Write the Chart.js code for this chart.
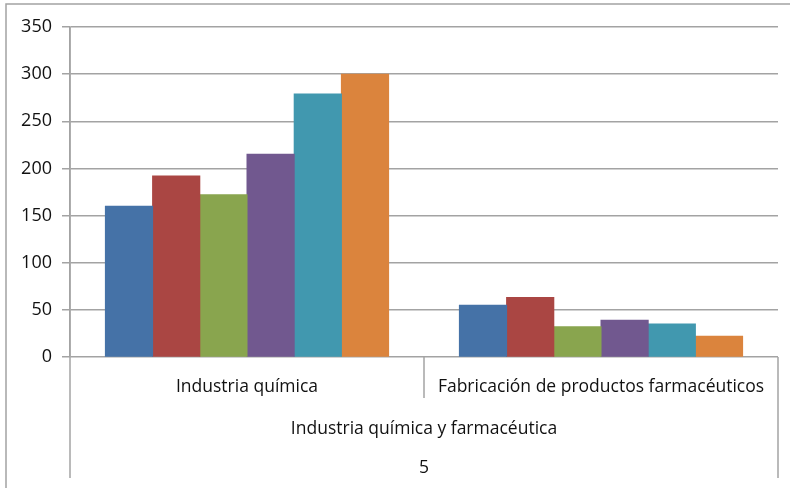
<!DOCTYPE html>
<html><head><meta charset="utf-8">
<script src="https://cdn.jsdelivr.net/npm/chart.js@4"></script>
<style>html,body{margin:0;padding:0;background:#fff}#wrap{width:790px;height:488px}</style>
</head><body><div id="wrap"><canvas id="c" width="790" height="488"></canvas></div>
<script>
const categories = ['Industria química', 'Fabricación de productos farmacéuticos'];
const groupLabels = ['Industria química y farmacéutica'];
const outerLabels = ['5'];
const seriesNames = ['Serie 1', 'Serie 2', 'Serie 3', 'Serie 4', 'Serie 5', 'Serie 6'];
const series1 = [160, 55];
const series2 = [192, 63];
const series3 = [172, 32];
const series4 = [215, 39];
const series5 = [279, 35];
const series6 = [300, 22];
const yTickValues = [0, 50, 100, 150, 200, 250, 300, 350];
const colors = ['#4572A7', '#AA4643', '#89A54E', '#71588F', '#4198AF', '#DB843D'];

const FONT = '"Open Sans", "Liberation Sans", sans-serif';
const LINE = '#a3a3a3';
const TEXT = '#111';

const multiLevel = {
  id: 'multiLevel',
  afterDraw(chart) {
    const {ctx, chartArea: a, scales: {x}} = chart;
    const bottomY = a.bottom + 121;
    const midY = a.bottom + 41;
    ctx.save();
    ctx.strokeStyle = LINE;
    ctx.lineWidth = 1.5;
    const line = (x1, y1, x2, y2) => { ctx.beginPath(); ctx.moveTo(x1, y1); ctx.lineTo(x2, y2); ctx.stroke(); };
    // outer chart border
    ctx.strokeRect(6, 4, 1000, 1000);
    // axis separators
    line(a.left, a.top, a.left, bottomY);
    line(a.right, a.bottom, a.right, bottomY);
    for (let i = 1; i < categories.length; i++) {
      const xb = (x.getPixelForValue(i - 1) + x.getPixelForValue(i)) / 2;
      line(xb, a.bottom, xb, midY);
    }
    ctx.fillStyle = TEXT;
    ctx.font = '17.5px ' + FONT;
    ctx.textAlign = 'center';
    ctx.textBaseline = 'middle';
    const cx = (a.left + a.right) / 2;
    ctx.fillText(groupLabels[0], cx, a.bottom + 72);
    ctx.fillText(outerLabels[0], cx, a.bottom + 111);
    ctx.restore();
  }
};

const seriesData = [series1, series2, series3, series4, series5, series6];
new Chart(document.getElementById('c'), {
  type: 'bar',
  data: {
    labels: categories,
    datasets: seriesData.map((d, i) => ({
      label: seriesNames[i],
      data: d,
      backgroundColor: colors[i],
      borderWidth: 0,
      inflateAmount: 0.5,
      barPercentage: 1,
      categoryPercentage: 0.8
    }))
  },
  options: {
    responsive: false,
    devicePixelRatio: 1,
    animation: false,
    layout: { padding: { top: 27, right: 12, left: 0, bottom: 0 } },
    plugins: { legend: { display: false }, tooltip: { enabled: false } },
    scales: {
      x: {
        grid: { display: false, drawTicks: false },
        border: { display: false },
        ticks: { color: TEXT, font: { family: FONT, size: 17.5 }, padding: 20, maxRotation: 0, minRotation: 0, autoSkip: false },
        afterFit(s) { s.height = 131; }
      },
      y: {
        min: 0, max: 350,
        afterBuildTicks(s) { s.ticks = yTickValues.map(v => ({ value: v })); },
        grid: { color: LINE, lineWidth: 1.5, tickLength: 8, drawTicks: true },
        border: { display: true, color: LINE, width: 1.5 },
        ticks: { color: TEXT, font: { family: FONT, size: 18 }, padding: 10 },
        afterFit(s) { s.width = 70; }
      }
    }
  },
  plugins: [multiLevel]
});
</script></body></html>
